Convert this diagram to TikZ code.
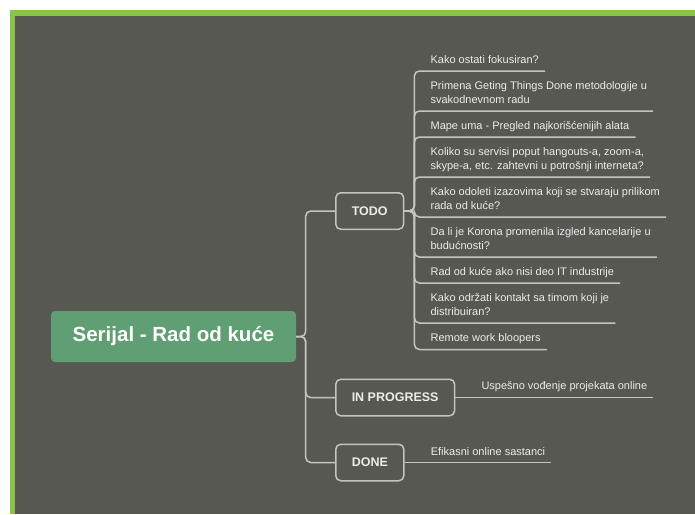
\documentclass[tikz,border=0pt]{standalone}
\usepackage{fontspec}
\setmainfont{Liberation Sans}
\usepackage{tikz}
\usepackage{xcolor}
\usetikzlibrary{positioning}
\definecolor{board}{RGB}{87,88,82}
\definecolor{frame}{RGB}{139,195,74}
\definecolor{leaf}{RGB}{96,158,115}
\definecolor{wire}{RGB}{196,197,190}
\definecolor{ink}{RGB}{236,236,232}
\tikzstyle{central}=[fill=leaf, rounded corners=4pt, minimum width=245pt, minimum height=51pt, text=white, font=\fontsize{20.5}{24}\selectfont\bfseries]
\tikzstyle{topic}=[draw=wire, line width=1.5pt, fill=board, rounded corners=5pt, inner xsep=16pt, minimum height=36.5pt, text=ink, font=\fontsize{12.5}{15}\selectfont\bfseries]
\tikzstyle{item}=[align=left, inner xsep=6pt, inner ysep=5.5pt, text=ink, font=\fontsize{11}{14}\selectfont, execute at end node={\rule[-1.5pt]{0pt}{0pt}}]
\tikzstyle{link}=[draw=wire, line width=1.5pt, rounded corners=5pt]

\begin{document}
\begin{tikzpicture}[x=1pt, y=-1pt, node distance=0pt]
    \useasboundingbox (0,0) rectangle (695,514);
    \fill[white] (0,0) rectangle (695,514);
    \fill[frame] (9.5,10) rectangle (695,514);
    \fill[board] (15,16) rectangle (695,514);

    \node[central]             (serial) at (173.5,336.5) {Serijal - Rad od kuće};
    \node[topic, anchor=west]  (todo)   at (335,211)     {TODO};
    \node[topic, anchor=west]  (prog)   at (335,397.5)   {IN PROGRESS};
    \node[topic, anchor=west]  (done)   at (335,462.5)   {DONE};

    \node[item, above right=140pt and 20pt of todo.east]          (todo1) {Kako ostati fokusiran?};
    \node[item, below=40pt of todo1.south west, anchor=south west] (todo2) {Primena Geting Things Done metodologije u\\svakodnevnom radu};
    \node[item, below=26pt of todo2.south west, anchor=south west] (todo3) {Mape uma - Pregled najkorišćenijih alata};
    \node[item, below=40pt of todo3.south west, anchor=south west] (todo4) {Koliko su servisi poput hangouts-a, zoom-a,\\skype-a, etc. zahtevni u potrošnji interneta?};
    \node[item, below=40pt of todo4.south west, anchor=south west] (todo5) {Kako odoleti izazovima koji se stvaraju prilikom\\rada od kuće?};
    \node[item, below=40pt of todo5.south west, anchor=south west] (todo6) {Da li je Korona promenila izgled kancelarije u\\budućnosti?};
    \node[item, below=26pt of todo6.south west, anchor=south west] (todo7) {Rad od kuće ako nisi deo IT industrije};
    \node[item, below=40pt of todo7.south west, anchor=south west] (todo8) {Kako održati kontakt sa timom koji je\\distribuiran?};
    \node[item, below=26.5pt of todo8.south west, anchor=south west] (todo9) {Remote work bloopers};
    \node[item, above right=0pt and 20pt of prog.east]            (prog1) {Uspešno vođenje projekata online};
    \node[item, above right=0pt and 20pt of done.east]            (done1) {Efikasni online sastanci};

    \draw[link] (serial.east) -- ++(9.5,0) |- (todo.west);
    \draw[link] (serial.east) -- ++(9.5,0) |- (prog.west);
    \draw[link] (serial.east) -- ++(9.5,0) |- (done.west);
    \foreach \i in {1,...,9}
      \draw[link] (todo.east) -- ++(10,0) |- (todo\i.south east);
    \draw[link] (prog.east) -- (prog1.south east);
    \draw[link] (done.east) -- (done1.south east);
  \end{tikzpicture}
\end{document}
